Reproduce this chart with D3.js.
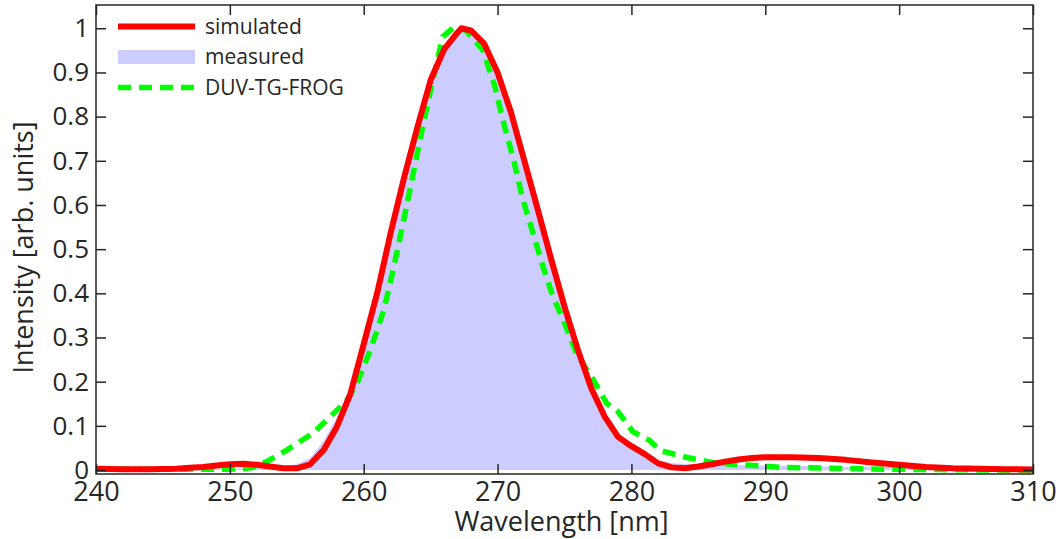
<!DOCTYPE html>
<html>
<head>
<meta charset="utf-8">
<script src="https://cdn.jsdelivr.net/npm/d3@7"></script>
<style>
  body { margin: 0; background: #fff; }
  text { font-family: "Open Sans", sans-serif; fill: #262626; }
</style>
</head>
<body>
<svg id="chart" width="1060" height="539"></svg>
<script>
// values
let simWl  = [240, 242, 244, 246, 247, 248, 249, 250, 251, 252, 253, 254, 255, 256, 257, 258, 259, 260, 261, 262, 263, 264, 265, 266, 267, 267.3,
              268, 269, 270, 271, 272, 273, 274, 275, 276, 277, 278, 279, 280, 281, 282, 283, 284, 285, 286, 287, 288, 289, 290, 292, 294, 296, 298, 300, 302, 304, 306, 308, 310];
let simVal = [0.003, 0.002, 0.002, 0.003, 0.005, 0.007, 0.010, 0.013, 0.014, 0.012, 0.008, 0.004, 0.004, 0.013, 0.045, 0.098, 0.172, 0.285, 0.40, 0.535, 0.66, 0.775, 0.883, 0.952, 0.99, 1.0,
              0.995, 0.965, 0.90, 0.81, 0.70, 0.59, 0.478, 0.37, 0.272, 0.185, 0.121, 0.075, 0.054, 0.036, 0.015, 0.006, 0.004, 0.008, 0.013, 0.019, 0.024, 0.027, 0.029, 0.029, 0.027, 0.023, 0.017, 0.012, 0.007, 0.004, 0.003, 0.002, 0.001];

let measWl  = [240, 250, 252, 254, 255, 256, 257, 258, 259, 260, 261, 262, 263, 264, 265, 266, 267, 267.3, 268, 269, 270, 271, 272, 273, 274, 275, 276, 277, 278, 279, 280, 281, 282, 283, 284, 286, 288, 290, 295, 300, 305, 310];
let measVal = [0.002, 0.003, 0.004, 0.008, 0.013, 0.027, 0.065, 0.12, 0.19, 0.285, 0.395, 0.525, 0.65, 0.77, 0.875, 0.948, 0.99, 1.0, 0.99, 0.958, 0.892, 0.80, 0.69, 0.58, 0.47, 0.365, 0.268, 0.185, 0.122, 0.078, 0.05, 0.033, 0.022, 0.016, 0.013, 0.012, 0.011, 0.010, 0.008, 0.006, 0.003, 0.002];

let frogWl  = [240, 245, 250, 251, 251.75, 252.75, 254.25, 255, 256.2, 257.5, 258.7, 259.5, 260.5, 261.5, 262.2, 263.2, 264.2, 265.05, 265.9, 266.65, 267.6, 268.9, 269.8, 270.4, 271.2, 271.9, 272.65, 273.4, 274.15, 274.9, 275.9, 277.15, 278.15, 279, 280.1, 281.4, 282.1, 283.9, 286.4, 288.9, 291.3, 295, 298.8, 303, 306.3, 310];
let frogVal = [0.002, 0.002, 0.002, 0.003, 0.006, 0.019, 0.045, 0.06, 0.083, 0.121, 0.156, 0.196, 0.272, 0.362, 0.453, 0.596, 0.747, 0.868, 0.981, 1.0, 0.996, 0.951, 0.868, 0.792, 0.702, 0.611, 0.536, 0.46, 0.392, 0.34, 0.264, 0.204, 0.151, 0.132, 0.087, 0.066, 0.045, 0.030, 0.015, 0.011, 0.006, 0.004, 0.002, 0.001, 0.0, 0.0];

let xTicks = [240, 250, 260, 270, 280, 290, 300, 310];
let yTicks = [0, 0.1, 0.2, 0.3, 0.4, 0.5, 0.6, 0.7, 0.8, 0.9, 1];
let legendNames = ["simulated", "measured", "DUV-TG-FROG"];

let svg = d3.select("#chart");
let pLeft = 96, pRight = 1033, pTop = 5, pBottom = 474;

let x = d3.scaleLinear().domain([240, 310]).range([pLeft, pRight]);
let y = d3.scaleLinear().domain([-0.009, 1.0527]).range([pBottom, pTop]);

let sim = simWl.map((w, i) => [w, simVal[i]]);
let meas = measWl.map((w, i) => [w, measVal[i]]);
let frog = frogWl.map((w, i) => [w, frogVal[i]]);

svg.append("clipPath").attr("id", "clip")
  .append("rect")
  .attr("x", pLeft).attr("y", pTop)
  .attr("width", pRight - pLeft).attr("height", pBottom - pTop);

let plot = svg.append("g").attr("clip-path", "url(#clip)");

// measured spectrum as filled area
plot.append("path")
  .datum(meas)
  .attr("fill", "#ccccff")
  .attr("d", d3.area().x(d => x(d[0])).y0(y(0)).y1(d => y(d[1])));

plot.append("path")
  .datum(frog)
  .attr("fill", "none")
  .attr("stroke", "#00ff00")
  .attr("stroke-width", 5.5)
  .attr("stroke-dasharray", "13,8")
  .attr("d", d3.line().x(d => x(d[0])).y(d => y(d[1])));

plot.append("path")
  .datum(sim)
  .attr("fill", "none")
  .attr("stroke", "#ff0000")
  .attr("stroke-width", 6)
  .attr("stroke-linejoin", "round")
  .attr("d", d3.line().x(d => x(d[0])).y(d => y(d[1])));

// axes, ticks pointing inward on all four sides
let yFmt = d => d3.format("~g")(d);

let gx = svg.append("g")
  .attr("transform", "translate(0," + pBottom + ")")
  .call(d3.axisBottom(x).tickValues(xTicks).tickSizeInner(-10).tickSizeOuter(0).tickPadding(8));
gx.selectAll("text").style("font-size", "27px").attr("dy", "0.72em");

svg.append("g")
  .attr("transform", "translate(0," + pTop + ")")
  .call(d3.axisTop(x).tickValues(xTicks).tickSizeInner(-10).tickSizeOuter(0))
  .selectAll("text").remove();

let gy = svg.append("g")
  .attr("transform", "translate(" + pLeft + ",0)")
  .call(d3.axisLeft(y).tickValues(yTicks).tickFormat(yFmt).tickSizeInner(-10).tickSizeOuter(0).tickPadding(7));
gy.selectAll("text").style("font-size", "26px");

svg.append("g")
  .attr("transform", "translate(" + pRight + ",0)")
  .call(d3.axisRight(y).tickValues(yTicks).tickSizeInner(-10).tickSizeOuter(0))
  .selectAll("text").remove();

svg.selectAll(".domain").remove();
svg.selectAll(".tick line").attr("stroke", "#262626").attr("stroke-width", 1.5);

svg.append("rect")
  .attr("x", pLeft).attr("y", pTop)
  .attr("width", pRight - pLeft).attr("height", pBottom - pTop)
  .attr("fill", "none")
  .attr("stroke", "#262626")
  .attr("stroke-width", 1.5);

// axis titles
svg.append("text")
  .attr("x", (pLeft + pRight) / 2 - 3)
  .attr("y", 531)
  .attr("text-anchor", "middle")
  .style("font-size", "27px")
  .text("Wavelength [nm]");

svg.append("text")
  .attr("transform", "translate(33," + ((pTop + pBottom) / 2 + 8) + ") rotate(-90)")
  .attr("text-anchor", "middle")
  .style("font-size", "27px")
  .text("Intensity [arb. units]");

// legend
let leg = svg.append("g");
let legY = [26.5, 57, 87.5];
leg.append("line")
  .attr("x1", 118).attr("x2", 195).attr("y1", legY[0]).attr("y2", legY[0])
  .attr("stroke", "#ff0000").attr("stroke-width", 6);
leg.append("rect")
  .attr("x", 118).attr("y", legY[1] - 7).attr("width", 77).attr("height", 14)
  .attr("fill", "#ccccff");
leg.append("line")
  .attr("x1", 118).attr("x2", 195).attr("y1", legY[2]).attr("y2", legY[2])
  .attr("stroke", "#00ff00").attr("stroke-width", 5.5).attr("stroke-dasharray", "13,8");
leg.selectAll(".lt")
  .data(legendNames)
  .enter().append("text")
  .attr("class", "lt")
  .attr("x", 205)
  .attr("y", (d, i) => legY[i])
  .attr("dy", "0.35em")
  .style("font-size", "21px")
  .text(d => d);
</script>
</body>
</html>
